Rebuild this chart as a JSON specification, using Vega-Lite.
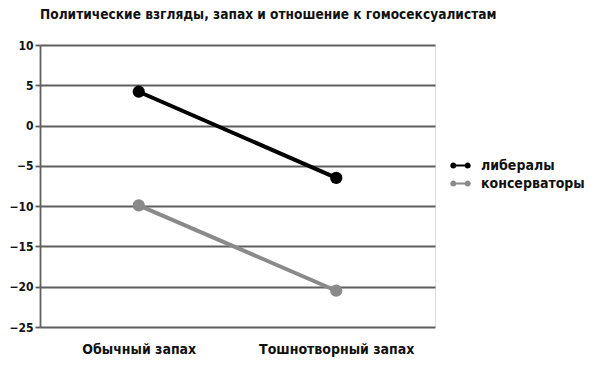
{
  "$schema": "https://vega.github.io/schema/vega-lite/v6.json",
  "autosize": "none",
  "width": 395,
  "height": 282,
  "padding": {"left": 40, "top": 45, "right": 165, "bottom": 43},
  "background": "white",
  "title": {
    "text": "Политические взгляды, запах и отношение к гомосексуалистам",
    "anchor": "start",
    "frame": "group",
    "font": "DejaVu Sans Condensed, Roboto, sans-serif",
    "fontSize": 13.6,
    "fontWeight": "bold",
    "color": "#111",
    "offset": 17
  },
  "data": {
    "values": [
      {"condition": "Обычный запах", "group": "либералы", "value": 4.2},
      {"condition": "Тошнотворный запах", "group": "либералы", "value": -6.5},
      {"condition": "Обычный запах", "group": "консерваторы", "value": -9.9},
      {"condition": "Тошнотворный запах", "group": "консерваторы", "value": -20.5}
    ]
  },
  "encoding": {
    "x": {
      "field": "condition",
      "type": "ordinal",
      "sort": ["Обычный запах", "Тошнотворный запах"],
      "scale": {"type": "point", "padding": 0.5},
      "axis": {
        "title": null,
        "domain": false,
        "ticks": false,
        "labelAngle": 0,
        "labelFont": "DejaVu Sans Condensed, Roboto, sans-serif",
        "labelFontSize": 14,
        "labelFontWeight": "bold",
        "labelColor": "#111",
        "labelPadding": 15
      }
    },
    "y": {
      "field": "value",
      "type": "quantitative",
      "scale": {"domain": [-25, 10], "nice": false},
      "axis": {
        "title": null,
        "values": [-25, -20, -15, -10, -5, 0, 5, 10],
        "grid": true,
        "gridColor": "#5f5f5f",
        "gridWidth": 1.8,
        "gridOpacity": 1,
        "domain": true,
        "domainColor": "#5f5f5f",
        "domainWidth": 1.8,
        "ticks": true,
        "tickColor": "#5f5f5f",
        "tickSize": 5,
        "tickWidth": 1.8,
        "labelFont": "DejaVu Sans Condensed, Roboto, sans-serif",
        "labelFontSize": 12,
        "labelFontWeight": "bold",
        "labelColor": "#111",
        "labelPadding": 2
      }
    }
  },
  "layer": [
    {
      "mark": {"type": "line", "strokeWidth": 4},
      "encoding": {
        "stroke": {
          "field": "group",
          "type": "nominal",
          "scale": {"domain": ["либералы", "консерваторы"], "range": ["#000000", "#8a8a8a"]}
        }
      }
    },
    {
      "mark": {"type": "point", "filled": true, "size": 150, "opacity": 1},
      "encoding": {
        "color": {
          "field": "group",
          "type": "nominal",
          "scale": {"domain": ["либералы", "консерваторы"], "range": ["#000000", "#8a8a8a"]},
          "legend": {
            "title": null,
            "orient": "none",
            "legendX": 410,
            "legendY": 110,
            "symbolType": "M-1,0 A0.3,0.3 0 1,1 -0.4,0 A0.3,0.3 0 1,1 -1,0 Z M0.4,0 A0.3,0.3 0 1,1 1,0 A0.3,0.3 0 1,1 0.4,0 Z M-0.45,-0.1 L0.45,-0.1 L0.45,0.1 L-0.45,0.1 Z",
            "symbolSize": 420,
            "symbolStrokeWidth": 0,
            "symbolOpacity": 1,
            "labelFont": "DejaVu Sans Condensed, Roboto, sans-serif",
            "labelFontSize": 14,
            "labelFontWeight": "bold",
            "labelColor": "#111",
            "labelOffset": 10,
            "rowPadding": 0
          }
        }
      }
    }
  ]
}
